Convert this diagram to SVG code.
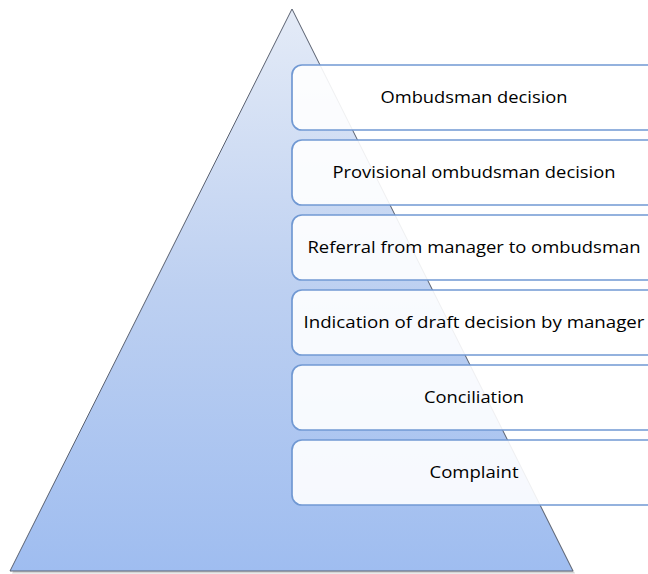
<svg xmlns="http://www.w3.org/2000/svg" width="648" height="574" viewBox="0 0 648 574">
<defs>
<linearGradient id="tri" x1="0" y1="0" x2="0" y2="1">
<stop offset="0" stop-color="#e4ebf7"/>
<stop offset="0.5" stop-color="#bdd0f1"/>
<stop offset="1" stop-color="#9fbdf0"/>
</linearGradient>
<style>
.box{fill:#ffffff;fill-opacity:0.9;stroke:#7199d3;stroke-width:1.7}
.lbl{font-family:"Open Sans","Liberation Sans",sans-serif;font-size:17px;fill:#000;text-anchor:middle}
</style>
</defs>
<rect width="648" height="574" fill="#ffffff"/>
<g id="pyramid">
<polygon points="292,9 574,572 11,572" fill="#888" opacity="0.35" transform="translate(1,1.5)"/>
<polygon points="292,9 573,571 10,571" fill="url(#tri)" stroke="#5a6170" stroke-width="1"/>
</g>
<g id="n1"><rect class="box" x="292" y="65" width="366" height="65" rx="10"/><text class="lbl" x="474" y="103" textLength="187" lengthAdjust="spacingAndGlyphs">Ombudsman decision</text></g>
<g id="n2"><rect class="box" x="292" y="140" width="366" height="65" rx="10"/><text class="lbl" x="474" y="178" textLength="283" lengthAdjust="spacingAndGlyphs">Provisional ombudsman decision</text></g>
<g id="n3"><rect class="box" x="292" y="215" width="366" height="65" rx="10"/><text class="lbl" x="474" y="253" textLength="333" lengthAdjust="spacingAndGlyphs">Referral from manager to ombudsman</text></g>
<g id="n4"><rect class="box" x="292" y="290" width="366" height="65" rx="10"/><text class="lbl" x="474" y="328" textLength="341" lengthAdjust="spacingAndGlyphs">Indication of draft decision by manager</text></g>
<g id="n5"><rect class="box" x="292" y="365" width="366" height="65" rx="10"/><text class="lbl" x="474" y="403" textLength="100" lengthAdjust="spacingAndGlyphs">Conciliation</text></g>
<g id="n6"><rect class="box" x="292" y="440" width="366" height="65" rx="10"/><text class="lbl" x="474" y="478" textLength="89" lengthAdjust="spacingAndGlyphs">Complaint</text></g>
<g id="connectors"/>
</svg>
